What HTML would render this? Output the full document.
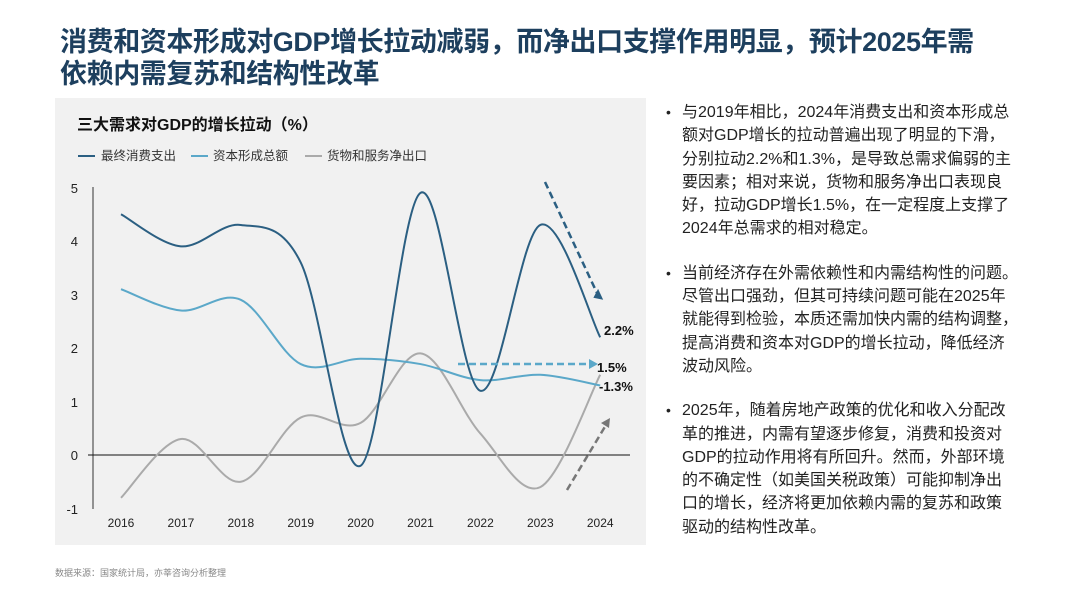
<!DOCTYPE html>
<html><head><meta charset="utf-8"><style>
body{margin:0;width:1067px;height:600px;background:#fff;font-family:"Liberation Sans","Noto Sans CJK SC",sans-serif;position:relative;overflow:hidden}
.t{position:absolute;left:60px;top:26px;font-size:27px;font-weight:bold;color:#1d3f5e;line-height:32px;letter-spacing:-0.4px;white-space:nowrap}
.box{position:absolute;left:55px;top:98px;width:591px;height:447px;background:#f1f1f1}
ul{position:absolute;left:664px;top:101px;width:400px;margin:0;padding:0;list-style:none;font-size:16px;line-height:23.3px;color:#222;white-space:nowrap}
li{position:relative;padding-left:18px;margin-bottom:21px}
li:before{content:"•";position:absolute;left:2px;top:0;font-size:14px}
.src{position:absolute;left:55px;top:566px;font-size:9px;color:#888}
</style></head><body>
<div class="t">消费和资本形成对GDP增长拉动减弱，而净出口支撑作用明显，预计2025年需<br>依赖内需复苏和结构性改革</div>
<div class="box"></div>
<svg width="1067" height="600" style="position:absolute;left:0;top:0" font-family="Liberation Sans,Noto Sans CJK SC,sans-serif">
<text x="77" y="130" font-size="16" font-weight="bold" fill="#111">三大需求对GDP的增长拉动（%）</text>
<g font-size="12.5" fill="#333">
<line x1="78" y1="156" x2="95" y2="156" stroke="#2b5f82" stroke-width="2"/><text x="101" y="160">最终消费支出</text>
<line x1="191" y1="156" x2="208" y2="156" stroke="#5ba8c9" stroke-width="2"/><text x="213" y="160">资本形成总额</text>
<line x1="305" y1="156" x2="322" y2="156" stroke="#aaa" stroke-width="2"/><text x="327" y="160">货物和服务净出口</text>
</g>
<g font-size="13" fill="#222" text-anchor="end">
<text x="78" y="193">5</text><text x="78" y="246">4</text><text x="78" y="300">3</text><text x="78" y="353">2</text><text x="78" y="407">1</text><text x="78" y="460">0</text><text x="78" y="514">-1</text>
</g>
<g font-size="12" fill="#222" text-anchor="middle" id="xl"></g>
<line x1="93" y1="187" x2="93" y2="509" stroke="#333" stroke-width="1"/>
<line x1="88" y1="455" x2="630" y2="455" stroke="#111" stroke-width="1"/>
<g id="ln" fill="none" stroke-width="2"></g>
<g stroke-dasharray="7,4" stroke-width="2.5" fill="none">
<line x1="545" y1="182" x2="597" y2="293" stroke="#2b5f82"/>
<line x1="458" y1="364" x2="590" y2="364" stroke="#5ba8c9"/>
<line x1="567" y1="490" x2="606" y2="425" stroke="#777"/>
</g>
<polygon points="593,296 601,302 601,290" fill="#2b5f82" transform="rotate(-25 597 296)"/>
<polygon points="598,364 589,359 589,369" fill="#5ba8c9"/>
<polygon points="610,418 601,423 609,428" fill="#777"/>
<g font-size="13" font-weight="bold" fill="#111">
<text x="604" y="335">2.2%</text><text x="597" y="372">1.5%</text><text x="599" y="391">-1.3%</text>
</g>
</svg>
<ul>
<li>与2019年相比，2024年消费支出和资本形成总<br>额对GDP增长的拉动普遍出现了明显的下滑，<br>分别拉动2.2%和1.3%，是导致总需求偏弱的主<br>要因素；相对来说，货物和服务净出口表现良<br>好，拉动GDP增长1.5%，在一定程度上支撑了<br>2024年总需求的相对稳定。</li>
<li>当前经济存在外需依赖性和内需结构性的问题。<br>尽管出口强劲，但其可持续问题可能在2025年<br>就能得到检验，本质还需加快内需的结构调整，<br>提高消费和资本对GDP的增长拉动，降低经济<br>波动风险。</li>
<li>2025年，随着房地产政策的优化和收入分配改<br>革的推进，内需有望逐步修复，消费和投资对<br>GDP的拉动作用将有所回升。然而，外部环境<br>的不确定性（如美国关税政策）可能抑制净出<br>口的增长，经济将更加依赖内需的复苏和政策<br>驱动的结构性改革。</li>
</ul>
<div class="src">数据来源：国家统计局，亦莘咨询分析整理</div>
<script>
var X=function(i){return 121+i*59.9},Y=function(v){return 455-53.5*v};
var xl=document.getElementById('xl'),ns="http://www.w3.org/2000/svg";
for(var i=0;i<9;i++){var t=document.createElementNS(ns,'text');t.setAttribute('x',X(i));t.setAttribute('y',527);t.textContent=2016+i;xl.appendChild(t);}
function path(d){var p=d.map(function(v,i){return [X(i),Y(v)]});var s="M"+p[0];for(var i=0;i<p.length-1;i++){var a=p[i-1]||p[i],b=p[i],c=p[i+1],e=p[i+2]||c;s+=" C"+(b[0]+(c[0]-a[0])/6)+","+(b[1]+(c[1]-a[1])/6)+" "+(c[0]-(e[0]-b[0])/6)+","+(c[1]-(e[1]-b[1])/6)+" "+c;}return s;}
var g=document.getElementById('ln');
[[[-0.8,0.3,-0.5,0.7,0.6,1.9,0.4,-0.6,1.5],"#aaa"],[[3.1,2.7,2.9,1.7,1.8,1.7,1.4,1.5,1.3],"#5ba8c9"],[[4.5,3.9,4.3,3.6,-0.2,4.9,1.2,4.3,2.2],"#2b5f82"]].forEach(function(s){var p=document.createElementNS(ns,'path');p.setAttribute('d',path(s[0]));p.setAttribute('stroke',s[1]);g.appendChild(p);});
</script>
</body></html>
